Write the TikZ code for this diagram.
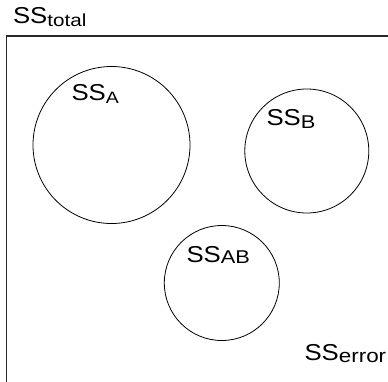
\documentclass[tikz,border=0pt]{standalone}
\usepackage{fontspec}
\usepackage{graphicx}
\setmainfont{Liberation Sans}
% \sslabel{sub size}{lowering}{sub text}
\newcommand{\sslabel}[3]{\scalebox{1.12}[1]{\fontsize{23}{23}\selectfont SS}\scalebox{1.18}[1]{\fontsize{#1}{#1}\selectfont\raisebox{-#2}{#3}}}
\begin{document}
\begin{tikzpicture}[x=1pt,y=-1pt,
  set/.style={circle, draw=black, line width=0.8pt, inner sep=0pt},
  lbl/.style={anchor=base west, inner sep=0pt, outer sep=0pt},
  frame/.style={draw=black!85, line width=1.1pt}]
  \useasboundingbox (0,0) rectangle (388,381);
  % outer frame (only top and left edges are inside the page)
  \coordinate (tl) at (6.5,36);
  \coordinate (tr) at (390,36);
  \coordinate (bl) at (6.5,383);
  \draw[frame] (tr) -- (tl) -- (bl);
  % sets
  \node[set, minimum size=157pt] (A) at (111.5,145) {};
  \node[set, minimum size=124pt] (B) at (306.8,151) {};
  \node[set, minimum size=115pt] (AB) at (221.8,283) {};
  % labels
  \node[lbl] (ltotal) at (13,23) {\sslabel{17.5}{3pt}{total}};
  \node[lbl] (lA) at (71.5,100) {\sslabel{16.5}{3pt}{A}};
  \node[lbl] (lB) at (266.5,125) {\sslabel{18.5}{3pt}{B}};
  \node[lbl] (lAB) at (186.5,262) {\sslabel{18.5}{1.5pt}{AB}};
  \node[lbl] (lerror) at (304.5,360) {\sslabel{19}{2pt}{error}};
\end{tikzpicture}
\end{document}
